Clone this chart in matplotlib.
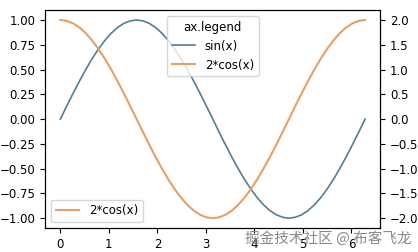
import matplotlib.pyplot as plt

plt.rcParams['font.size'] = 8.5

# Data (x in radians, steps of pi/24)
x = [0.000, 0.131, 0.262, 0.393, 0.524, 0.654, 0.785, 0.916, 1.047,
     1.178, 1.309, 1.440, 1.571, 1.702, 1.833, 1.963, 2.094, 2.225,
     2.356, 2.487, 2.618, 2.749, 2.880, 3.011, 3.142, 3.272, 3.403,
     3.534, 3.665, 3.796, 3.927, 4.058, 4.189, 4.320, 4.451, 4.581,
     4.712, 4.843, 4.974, 5.105, 5.236, 5.367, 5.498, 5.629, 5.760,
     5.890, 6.021, 6.152, 6.283]
sin_vals = [0.000, 0.131, 0.259, 0.383, 0.500, 0.609, 0.707, 0.793, 0.866,
            0.924, 0.966, 0.991, 1.000, 0.991, 0.966, 0.924, 0.866, 0.793,
            0.707, 0.609, 0.500, 0.383, 0.259, 0.131, 0.000, -0.131, -0.259,
            -0.383, -0.500, -0.609, -0.707, -0.793, -0.866, -0.924, -0.966,
            -0.991, -1.000, -0.991, -0.966, -0.924, -0.866, -0.793, -0.707,
            -0.609, -0.500, -0.383, -0.259, -0.131, 0.000]
cos2_vals = [2.000, 1.983, 1.932, 1.848, 1.732, 1.587, 1.414, 1.218, 1.000,
             0.765, 0.518, 0.261, 0.000, -0.261, -0.518, -0.765, -1.000,
             -1.218, -1.414, -1.587, -1.732, -1.848, -1.932, -1.983, -2.000,
             -1.983, -1.932, -1.848, -1.732, -1.587, -1.414, -1.218, -1.000,
             -0.765, -0.518, -0.261, 0.000, 0.261, 0.518, 0.765, 1.000,
             1.218, 1.414, 1.587, 1.732, 1.848, 1.932, 1.983, 2.000]

fig = plt.figure(figsize=(4.18, 2.52), dpi=100)
ax = fig.add_axes([0.108, 0.095, 0.802, 0.865])
ax2 = ax.twinx()

l1, = ax.plot(x, sin_vals, color='#587a93', lw=1.2, label='sin(x)')
l2, = ax2.plot(x, cos2_vals, color='#e6a067', lw=1.5, label='2*cos(x)')

ax.set_yticks([-1.0, -0.75, -0.5, -0.25, 0.0, 0.25, 0.5, 0.75, 1.0])
ax2.set_yticks([-2.0, -1.5, -1.0, -0.5, 0.0, 0.5, 1.0, 1.5, 2.0])

ax2.legend(handles=[l1, l2], title='ax.legend', loc='upper center')
ax.legend(handles=[l2], loc='lower left')

# watermark
fig.text(0.985, 0.025, '掘金技术社区 @ 布客飞龙', ha='right', va='bottom',
         fontsize=10.5, color='#8a8a8a',
         family=['Noto Sans CJK SC', 'DejaVu Sans'])

plt.savefig('out.png')
